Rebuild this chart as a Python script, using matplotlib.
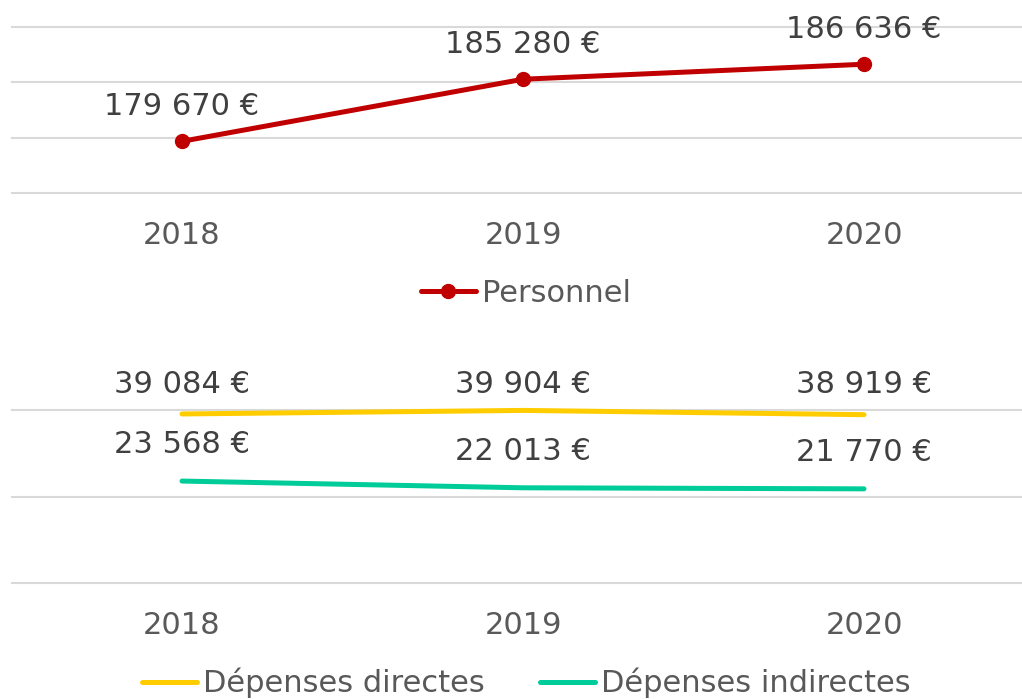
import matplotlib.pyplot as plt
from matplotlib.lines import Line2D

plt.rcParams['font.family'] = ['DejaVu Sans']

# Data
years = ['2018', '2019', '2020']
personnel = [179670, 185280, 186636]
dep_directes = [39084, 39904, 38919]
dep_indirectes = [23568, 22013, 21770]

RED = '#C00000'
YELLOW = '#FFCC00'
GREEN = '#00CC99'
GRID = '#D9D9D9'
LABEL = '#404040'
TICK = '#595959'
FS = 22

W, H = 1022, 699
fig = plt.figure(figsize=(W / 100, H / 100), dpi=100)


def fmt(v):
    return f'{v:,}'.replace(',', ' ') + ' €'


def make_axes(top_px, bottom_px):
    ax = fig.add_axes([12 / W, 1 - bottom_px / H, 1 - 12 / W, (bottom_px - top_px) / H])
    # categories at 182, 522, 864 px
    step = (864 - 182) / 2
    xmin = -(182 - 12) / step
    xmax = 2 + (W - 864) / step
    ax.set_xlim(xmin, xmax)
    for s in ax.spines.values():
        s.set_visible(False)
    ax.set_yticklabels([])
    ax.tick_params(axis='y', length=0)
    ax.tick_params(axis='x', length=0, pad=20, labelsize=FS, labelcolor=TICK)
    ax.set_xticks(range(len(years)))
    ax.set_xticklabels(years)
    ax.grid(axis='y', color=GRID, linewidth=1.5)
    for gl in ax.get_ygridlines():
        gl.set_clip_on(False)
    ax.set_axisbelow(True)
    return ax


def add_labels(ax, vals, dy):
    for i, v in enumerate(vals):
        ax.annotate(fmt(v), (i, v), xytext=(0, dy), textcoords='offset points',
                    ha='center', va='center', fontsize=FS, color=LABEL)


# Top panel: Personnel
ax1 = make_axes(27, 193)
ax1.set_ylim(175000, 190000)
ax1.set_yticks([175000, 180000, 185000, 190000])
ax1.plot(range(3), personnel, color=RED, linewidth=3.6, marker='o', markersize=10,
         solid_capstyle='round', clip_on=False)
add_labels(ax1, personnel, 25)

# Bottom panel: Dépenses
ax2 = make_axes(410, 583)
ax2.set_ylim(0, 40000)
ax2.set_yticks([0, 20000, 40000])
ax2.plot(range(3), dep_directes, color=YELLOW, linewidth=3.6, solid_capstyle='round', clip_on=False)
ax2.plot(range(3), dep_indirectes, color=GREEN, linewidth=3.6, solid_capstyle='round', clip_on=False)
# labels of the top series sit on one row above the panel
for i, v in enumerate(dep_directes):
    ax2.annotate(fmt(v), (i, (583 - 384) / (583 - 410)), xycoords=('data', 'axes fraction'),
                 ha='center', va='center', fontsize=FS, color=LABEL)
add_labels(ax2, dep_indirectes, 26)

# Legends
h1 = [Line2D([], [], color=RED, linewidth=3.6, marker='o', markersize=10, solid_capstyle='round')]
leg1 = fig.legend(h1, ['Personnel'], loc='center', bbox_to_anchor=(526 / W, 1 - 293 / H),
                  frameon=False, fontsize=FS, handlelength=1.8, handletextpad=0.2,
                  borderpad=0, borderaxespad=0)
for t in leg1.get_texts():
    t.set_color(TICK)

h2 = [Line2D([], [], color=YELLOW, linewidth=3.6, solid_capstyle='round'),
      Line2D([], [], color=GREEN, linewidth=3.6, solid_capstyle='round')]
leg2 = fig.legend(h2, ['Dépenses directes', 'Dépenses indirectes'], loc='center',
                  bbox_to_anchor=(526 / W, 1 - 683 / H), ncol=2, frameon=False, fontsize=FS,
                  handlelength=1.8, handletextpad=0.2, columnspacing=1.8,
                  borderpad=0, borderaxespad=0)
for t in leg2.get_texts():
    t.set_color(TICK)

plt.savefig('out.png', dpi=100)
